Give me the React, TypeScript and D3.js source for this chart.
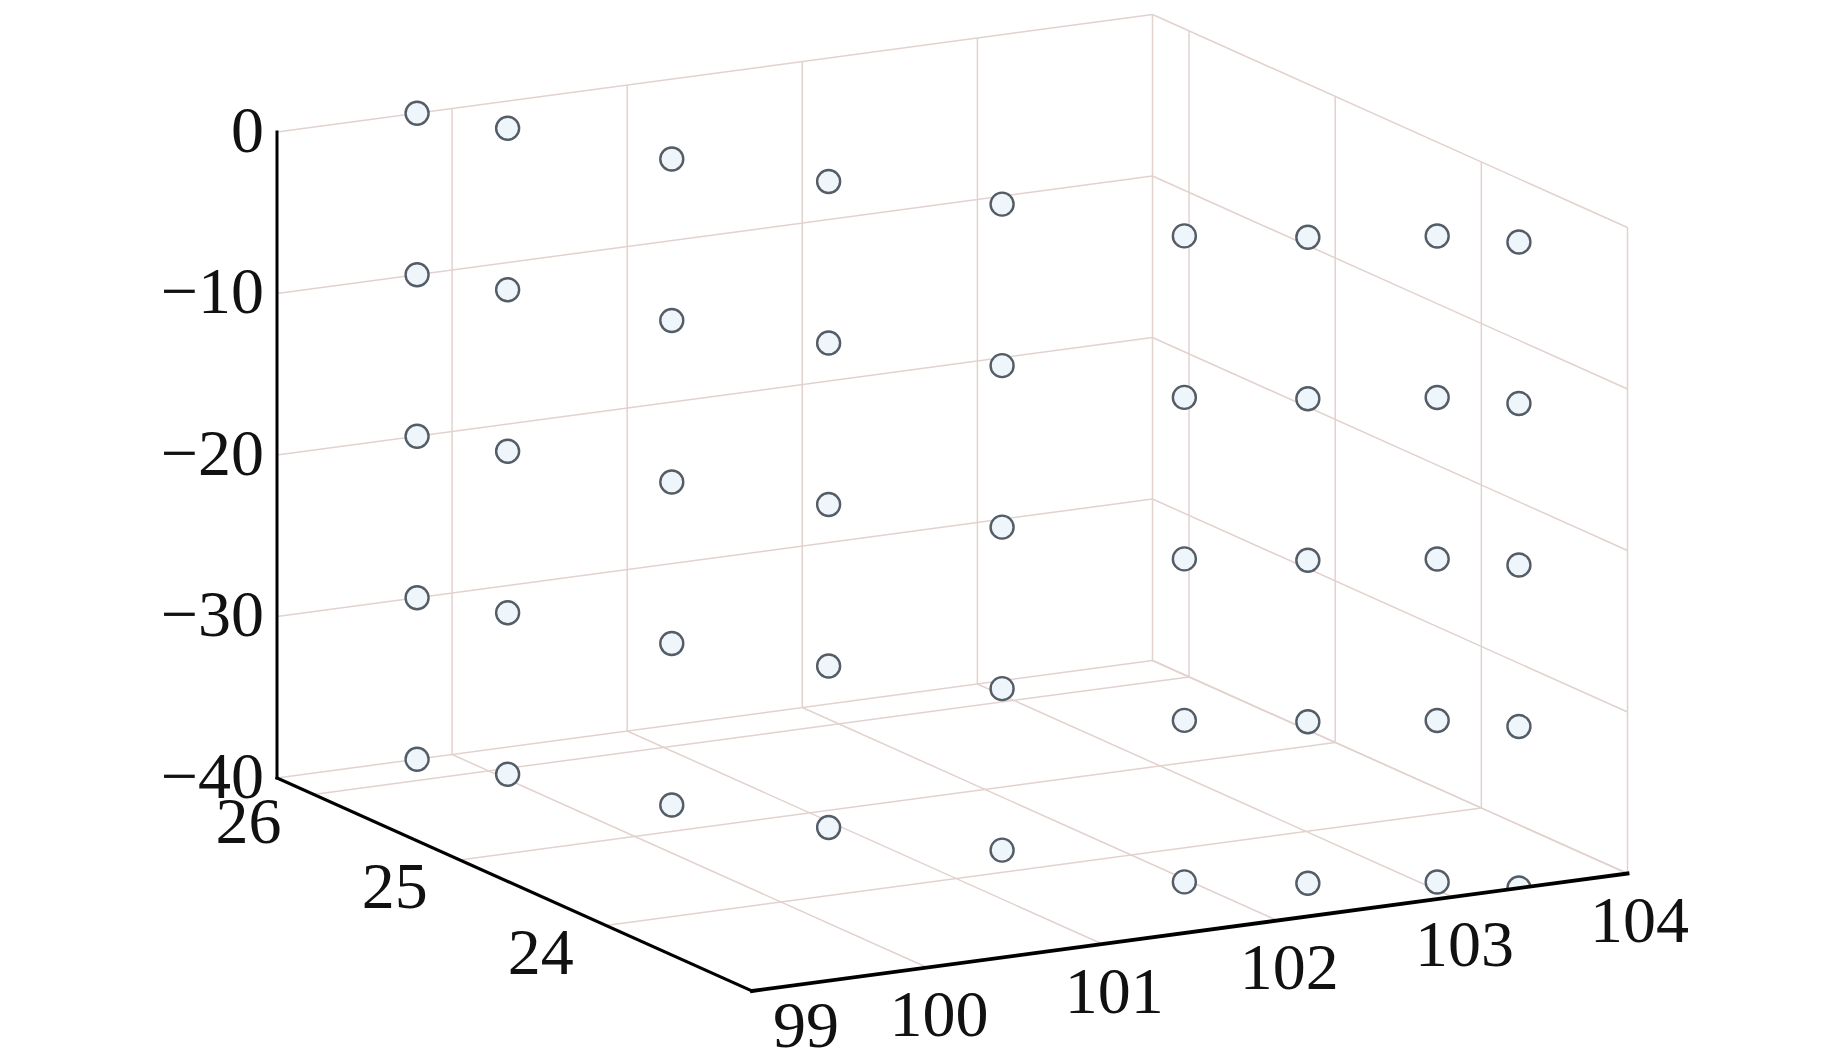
import React from 'react';
import * as d3 from 'd3';

const W = 1843;
const H = 1063;

// axis limits and ticks
const X_DOMAIN: [number, number] = [99, 104];
const Y_DOMAIN: [number, number] = [23, 26.25];
const Z_DOMAIN: [number, number] = [-40, 0];
const X_TICKS = [99, 100, 101, 102, 103, 104];
const Y_GRID = [23, 24, 25, 26];
const Y_TICK_LABELS = [24, 25, 26];
const Z_TICKS = [0, -10, -20, -30, -40];

// stations (longitude, latitude) sampled at several depths
const stationLon = [99.8, 100.05, 100.47, 100.94, 101.48, 101.97, 102.5, 103.08, 103.38];
const stationLat = [26.25, 25.93, 25.31, 24.8, 24.26, 23.6, 23.39, 23.2, 23.0];
const stationDepths = [0, -10, -20, -30, -40];

// orthographic view geometry
const ORIGIN: [number, number] = [752, 991];
const EX: [number, number] = [875.5, -117.5];
const EY: [number, number] = [-475, -213];
const EZ: [number, number] = [0, -646];

const sx = d3.scaleLinear().domain(X_DOMAIN).range([0, 1]);
const sy = d3.scaleLinear().domain(Y_DOMAIN).range([0, 1]);
const sz = d3.scaleLinear().domain(Z_DOMAIN).range([0, 1]);

function project(x: number, y: number, z: number): [number, number] {
  const a = sx(x), b = sy(y), c = sz(z);
  return [
    ORIGIN[0] + a * EX[0] + b * EY[0] + c * EZ[0],
    ORIGIN[1] + a * EX[1] + b * EY[1] + c * EZ[1],
  ];
}

const line = d3.line<[number, number]>();

export default function App() {
  const [x0, x1] = X_DOMAIN;
  const [y0, y1] = Y_DOMAIN;
  const [z0, z1] = Z_DOMAIN;

  const grid: [number, number][][] = [];
  // floor
  X_TICKS.forEach((x) => grid.push([project(x, y0, z0), project(x, y1, z0)]));
  Y_GRID.forEach((y) => grid.push([project(x0, y, z0), project(x1, y, z0)]));
  // back wall (y = max)
  X_TICKS.forEach((x) => grid.push([project(x, y1, z0), project(x, y1, z1)]));
  Z_TICKS.forEach((z) => grid.push([project(x0, y1, z), project(x1, y1, z)]));
  // side wall (x = max)
  Y_GRID.forEach((y) => grid.push([project(x1, y, z0), project(x1, y, z1)]));
  Z_TICKS.forEach((z) => grid.push([project(x1, y0, z), project(x1, y1, z)]));

  const A = project(x0, y1, z0);
  const B = project(x0, y0, z0);
  const C = project(x1, y0, z0);
  const Atop = project(x0, y1, z1);

  const clipPts: [number, number][] = [[0, 0], [W, 0], [W, C[1]], C, B, A, [0, A[1]]];

  const points: { x: number; y: number; z: number }[] = [];
  stationLon.forEach((lon, i) => {
    stationDepths.forEach((d) => points.push({ x: lon, y: stationLat[i], z: d }));
  });

  const font = "'Liberation Serif', 'Times New Roman', serif";
  const fs = 66;

  return (
    <svg width={W} height={H} style={{ position: 'absolute', left: 0, top: 0, background: '#fff' }}>
      <defs>
        <clipPath id="plotclip">
          <path d={line(clipPts) + 'Z'} />
        </clipPath>
      </defs>
      <g>
        {grid.map((seg, i) => (
          <path key={i} d={line(seg) || ''} stroke="#e2d2ce" strokeWidth={1.5} fill="none" />
        ))}
      </g>
      <g clipPath="url(#plotclip)">
        {points.map((p, i) => {
          const [px, py] = project(p.x, p.y, p.z);
          return <circle key={i} cx={px} cy={py} r={11.5} fill="#eef5fb" stroke="#545c66" strokeWidth={2.4} />;
        })}
      </g>
      <g stroke="#000" fill="none" strokeLinecap="square">
        <path d={line([A, Atop]) || ''} strokeWidth={3} />
        <path d={line([A, B]) || ''} strokeWidth={3.2} />
        <path d={line([B, C]) || ''} strokeWidth={3.8} />
      </g>
      <g fontFamily={font} fontSize={fs} fill="#111">
        {Z_TICKS.map((z) => {
          const [px, py] = project(x0, y1, z);
          return (
            <text key={'z' + z} x={px - 13} y={py - 3} textAnchor="end" dominantBaseline="central">
              {z < 0 ? '\u2212' + Math.abs(z) : String(z)}
            </text>
          );
        })}
        {X_TICKS.map((x) => {
          const [px, py] = project(x, y0, z0);
          // the corner label is nudged right, clear of the y axis
          const dx = x === x0 ? 54 : 12;
          const dy = x === x0 ? 33 : 46;
          return (
            <text key={'x' + x} x={px + dx} y={py + dy} textAnchor="middle" dominantBaseline="central">
              {x}
            </text>
          );
        })}
        {Y_TICK_LABELS.map((y) => {
          const [px, py] = project(x0, y, z0);
          return (
            <text key={'y' + y} x={px - 65} y={py + 26} textAnchor="middle" dominantBaseline="central">
              {y}
            </text>
          );
        })}
      </g>
    </svg>
  );
}
